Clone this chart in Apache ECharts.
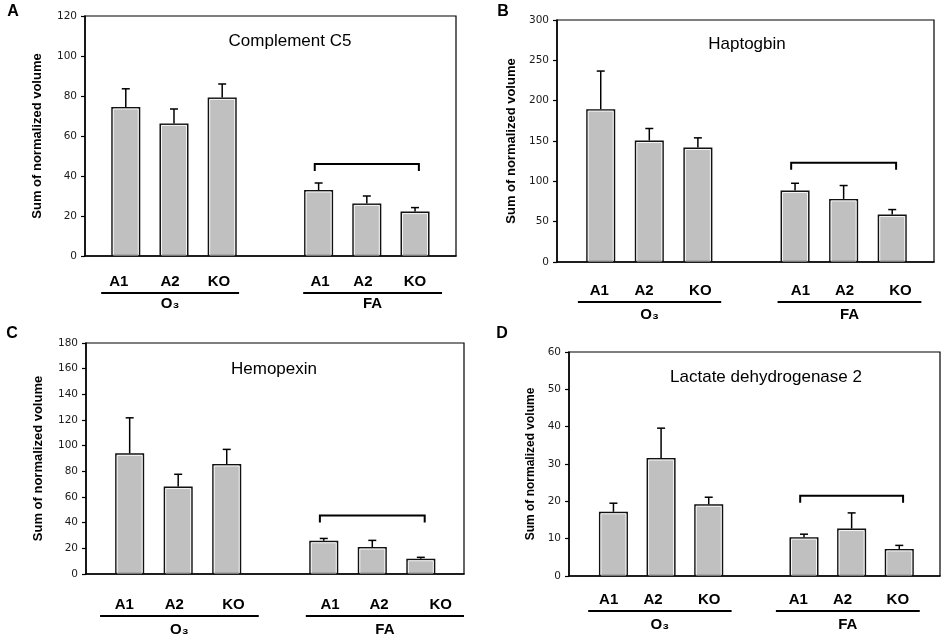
<!DOCTYPE html>
<html><head><meta charset="utf-8">
<script src="https://cdn.jsdelivr.net/npm/echarts@6/dist/echarts.min.js"></script>
<style>html,body{margin:0;padding:0;background:#fff}#c{width:945px;height:642px}</style>
</head><body><div id="c"></div>
<script>
// ---------- data ----------
const categories = ['A1','A2','KO','','A1','A2','KO'];
const groupNames = ['O\u2083','FA'];
const panelLetters = ['A','B','C','D'];
const proteinNames = ['Complement C5','Haptogbin','Hemopexin','Lactate dehydrogenase 2'];
const yAxisTitle = 'Sum of normalized volume';
const yMax = [120, 300, 180, 60];
const yStep = [20, 50, 20, 10];
const meanC5  = [74.5, 66.3, 79.3, null, 33.0, 26.3, 22.2];
const semC5   = [9.1, 7.2, 6.7, null, 3.5, 3.7, 2.0];
const meanHp  = [189.5, 150.6, 141.9, null, 88.6, 78.2, 58.8];
const semHp   = [47.2, 14.9, 12.0, null, 9.0, 16.6, 6.2];
const meanHx  = [94.0, 68.1, 85.7, null, 25.9, 21.0, 11.9];
const semHx   = [27.7, 9.6, 11.4, null, 1.8, 5.2, 1.1];
const meanLdh = [17.2, 31.6, 19.2, null, 10.4, 12.7, 7.25];
const semLdh  = [2.3, 8.0, 1.9, null, 0.8, 4.2, 0.95];
const bracketLevel = [46, 123, 45.5, 21.5];
const bracketSpan = [4.92, 7.08];

const means = [meanC5, meanHp, meanHx, meanLdh];
const sems = [semC5, semHp, semHx, semLdh];

// ---------- layout ----------
const layout = [
 {left:85, top:16, width:371, height:240, xMin:0.154, xMax:7.85, letter:[13,12], title:[290,41], nameGap:41, nameSize:13,
  labelDrop:26, lineDrop:37, groupDrop:48, labelAt:[0.855,1.917,2.934,null,5.03,5.92,7.0], groupSpan:[[0.49,3.35],[4.68,7.56]]},
 {left:557, top:20, width:377, height:242, xMin:0.10, xMax:7.86, letter:[503,12], title:[747,44], nameGap:39, nameSize:13,
  labelDrop:29, lineDrop:40, groupDrop:53, labelAt:[0.97,1.89,3.05,null,5.11,6.02,7.17], groupSpan:[[0.53,3.48],[4.64,7.60]]},
 {left:86, top:343, width:378, height:231, xMin:0.10, xMax:7.89, letter:[12,334], title:[274,369], nameGap:41, nameSize:13,
  labelDrop:31, lineDrop:42, groupDrop:56, labelAt:[0.89,1.92,3.14,null,5.13,6.14,7.41], groupSpan:[[0.39,3.66],[4.63,7.89]]},
 {left:569, top:352, width:371, height:224, xMin:0.067, xMax:7.855, letter:[502,334], title:[766,377], nameGap:32, nameSize:12,
  labelDrop:24, lineDrop:35, groupDrop:49, labelAt:[0.90,1.83,3.01,null,4.88,5.81,6.97], groupSpan:[[0.47,3.48],[4.41,7.43]]}
];
const BAR_W = 29;
const SANS = '"Liberation Sans", Arial, "DejaVu Sans", sans-serif';

const chart = echarts.init(document.getElementById('c'), null, {renderer:'canvas'});
const grid = [], xAxis = [], yAxis = [], series = [], graphic = [];

layout.forEach((L, k) => {
  grid.push({left:L.left, top:L.top, width:L.width, height:L.height, show:true, borderColor:'#000', borderWidth:1.2, containLabel:false});
  xAxis.push({type:'value', gridIndex:k, min:L.xMin, max:L.xMax,
    axisLine:{show:true, onZero:false, lineStyle:{color:'#000', width:1.5}},
    axisTick:{show:false}, axisLabel:{show:false}, splitLine:{show:false}});
  yAxis.push({type:'value', gridIndex:k, min:0, max:yMax[k], interval:yStep[k],
    name:yAxisTitle, nameLocation:'middle', nameGap:L.nameGap,
    nameTextStyle:{fontSize:L.nameSize, fontWeight:'bold', color:'#000', fontFamily:SANS},
    axisLine:{show:true, onZero:false, lineStyle:{color:'#000', width:1.5}},
    axisTick:{show:true, inside:false, length:4, lineStyle:{color:'#000', width:1.2}},
    axisLabel:{fontSize:10.5, color:'#1a1a1a', margin:8, fontFamily:'"DejaVu Sans", sans-serif'},
    splitLine:{show:false}});

  const barData = [], errData = [];
  categories.forEach((c, i) => {
    if (!c) return;
    barData.push([i + 1, means[k][i]]);
    errData.push([i + 1, means[k][i], sems[k][i]]);
  });

  series.push({type:'bar', xAxisIndex:k, yAxisIndex:k, data:barData, barWidth:BAR_W,
    itemStyle:{color:'#c0c0c0', borderColor:'#111', borderWidth:1.5}, silent:true, z:2});

  series.push({type:'custom', xAxisIndex:k, yAxisIndex:k, data:errData, z:3, silent:true,
    renderItem:(params, api) => {
      const x = api.value(0), m = api.value(1), e = api.value(2);
      const p0 = api.coord([x, m]), p1 = api.coord([x, m + e]), pb = api.coord([x, 0]);
      return {type:'group', children:[
        {type:'rect', shape:{x:p0[0] - BAR_W/2 + 2, y:p0[1] + 2, width:BAR_W - 4, height:pb[1] - p0[1] - 3},
          style:{fill:null, stroke:'rgba(255,255,255,0.85)', lineWidth:1}},
        {type:'line', shape:{x1:p0[0], y1:p0[1], x2:p1[0], y2:p1[1]}, style:{stroke:'#000', lineWidth:1.5}},
        {type:'line', shape:{x1:p1[0] - 4, y1:p1[1], x2:p1[0] + 4, y2:p1[1]}, style:{stroke:'#000', lineWidth:1.5}}
      ]};
    }});

  series.push({type:'custom', xAxisIndex:k, yAxisIndex:k, data:[[4, 0]], z:4, silent:true, clip:false,
    renderItem:(params, api) => {
      const base = x => api.coord([x, 0]);
      const ch = [];
      categories.forEach((c, i) => {
        if (!c) return;
        const p = base(L.labelAt[i]);
        ch.push({type:'text', style:{text:c, x:p[0], y:p[1] + L.labelDrop, fill:'#000',
          fontSize:15, fontWeight:'bold', fontFamily:SANS,
          textAlign:'center', textVerticalAlign:'middle', align:'center', verticalAlign:'middle'}});
      });
      groupNames.forEach((g, j) => {
        const pa = base(L.groupSpan[j][0]), pb = base(L.groupSpan[j][1]);
        const y = pa[1] + L.lineDrop;
        ch.push({type:'line', shape:{x1:pa[0], y1:y, x2:pb[0], y2:y}, style:{stroke:'#000', lineWidth:2.2}});
        ch.push({type:'text', style:{text:g, x:(pa[0] + pb[0]) / 2, y:pa[1] + L.groupDrop, fill:'#000',
          fontSize:15, fontWeight:'bold', fontFamily:SANS,
          textAlign:'center', textVerticalAlign:'middle', align:'center', verticalAlign:'middle'}});
      });
      const b0 = api.coord([bracketSpan[0], bracketLevel[k]]), b1 = api.coord([bracketSpan[1], bracketLevel[k]]);
      ch.push({type:'polyline', shape:{points:[[b0[0], b0[1] + 7], [b0[0], b0[1]], [b1[0], b1[1]], [b1[0], b1[1] + 7]]},
        style:{stroke:'#000', fill:null, lineWidth:2}});
      return {type:'group', children:ch};
    }});

  graphic.push({type:'text', x:L.title[0], y:L.title[1], silent:true,
    style:{text:proteinNames[k], fill:'#000', fontSize:17, fontFamily:SANS,
      textAlign:'center', textVerticalAlign:'middle', align:'center', verticalAlign:'middle'}});
  graphic.push({type:'text', x:L.letter[0], y:L.letter[1], silent:true,
    style:{text:panelLetters[k], fill:'#000', fontSize:16, fontWeight:'bold', fontFamily:SANS,
      textAlign:'center', textVerticalAlign:'middle', align:'center', verticalAlign:'middle'}});
});

chart.setOption({animation:false, backgroundColor:'#fff', grid, xAxis, yAxis, series, graphic});
</script>
</body></html>
